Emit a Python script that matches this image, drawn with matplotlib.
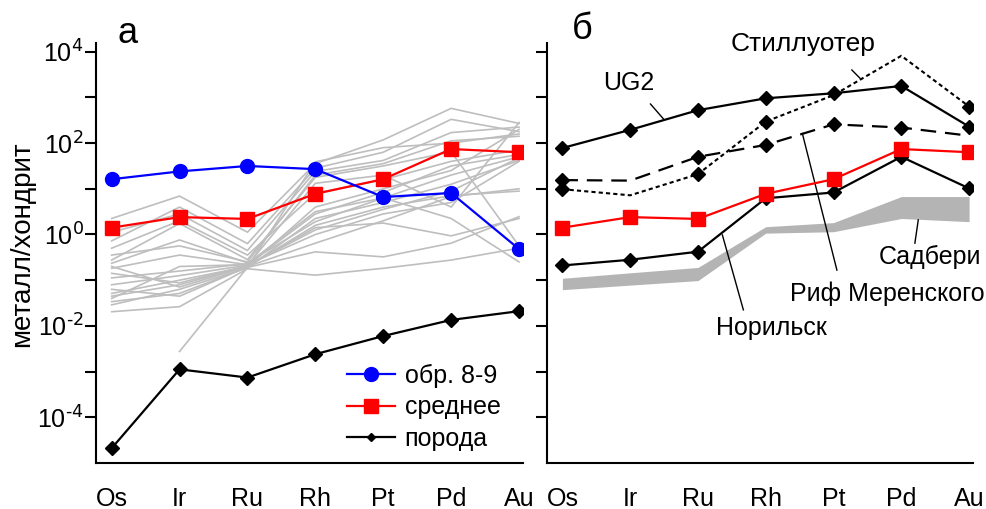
import numpy as np
import matplotlib
matplotlib.use("Agg")
import matplotlib.pyplot as plt
from matplotlib.lines import Line2D

plt.rcParams['font.family'] = ['Liberation Sans', 'DejaVu Sans']

elements = ["Os", "Ir", "Ru", "Rh", "Pt", "Pd", "Au"]

# values normalised to chondrite
sample_8_9 = [16.2, 24.0, 31.6, 26.9, 6.6, 8.1, 0.48]
mean_val = [1.41, 2.40, 2.19, 7.76, 16.2, 74.1, 63.1]
rock = [2.1e-5, 1.12e-3, 7.4e-4, 2.4e-3, 6.0e-3, 1.35e-2, 2.1e-2]

# individual samples (log10 of metal/chondrite), grey lines
grey_log = [
    [0.35, 0.84, 0.05, 1.55, 2.07, 2.76, 2.43],
    [-0.14, 0.60, -0.20, 1.45, 1.80, 2.52, 2.25],
    [0.05, 0.45, -0.35, 1.38, 1.62, 2.23, 2.35],
    [-0.56, 0.24, -0.55, 1.25, 1.50, 1.81, -0.25],
    [-0.63, -0.12, -0.62, 0.28, 0.80, 1.30, 1.70],
    [-0.74, -0.45, -0.66, 0.45, 0.92, 1.50, 1.75],
    [-0.85, -1.06, -0.68, 0.10, 0.55, 0.95, 1.68],
    [-0.70, -1.15, -0.70, -0.19, 0.30, 0.83, 1.00],
    [-1.29, -1.00, -0.70, 0.20, 0.60, 0.85, 0.95],
    [-1.40, -0.70, -0.66, 0.00, 0.45, 0.70, 1.60],
    [-1.47, -1.29, -0.72, -0.38, -0.49, -0.19, 0.39],
    [-1.54, -1.20, -0.73, 0.35, 0.70, 1.10, 1.62],
    [-1.69, -1.58, -0.75, -0.89, -0.74, -0.56, -0.30],
    [-1.35, -1.10, -0.69, 0.15, 0.25, -0.03, 0.35],
    [np.nan, -2.56, -0.72, 1.59, 1.90, 2.00, 2.20],
    [-0.95, -0.80, -0.64, 0.50, 0.80, 0.35, -0.60],
    [-1.10, -0.90, -0.67, 1.12, 1.30, 0.60, 2.45],
    [-0.30, 0.30, -0.45, 0.90, 1.20, 1.60, 1.85],
    [-1.20, -1.35, -0.71, 0.60, 1.00, 1.40, 2.30],
    [-0.45, -0.25, -0.60, 1.30, 1.55, 2.05, 2.15],
]

# panel b: deposits
ug2 = [78, 195, 525, 955, 1230, 1780, 229]
stillwater = [9.8, 7.2, 20.9, 295, 1120, 8130, 631]
merensky = [15.5, 15.1, 50.1, 91.2, 257, 219, 145]
norilsk = [0.21, 0.28, 0.42, 6.2, 8.3, 50.1, 10.2]
sudbury_hi = [0.11, 0.145, 0.19, 1.48, 1.82, 6.76, 6.76]
sudbury_lo = [0.062, 0.078, 0.098, 1.07, 1.15, 2.24, 1.91]

x = np.arange(len(elements))

fig = plt.figure(figsize=(9.87, 5.09), dpi=100)
ax1 = fig.add_axes([0.0973, 0.0904, 0.4327, 0.8251])
ax2 = fig.add_axes([0.554, 0.0904, 0.432, 0.8251])

for ax in (ax1, ax2):
    ax.set_yscale('log')
    ax.set_xlim(-0.23, 6.06)
    ax.set_ylim(1e-5, 10 ** 4.19)
    ax.spines['top'].set_visible(False)
    ax.spines['right'].set_visible(False)
    ax.spines['left'].set_linewidth(1.5)
    ax.spines['bottom'].set_linewidth(1.5)
    ax.set_xticks(x)
    ax.set_xticklabels(elements, fontsize=18)
    ax.tick_params(axis='x', length=0, pad=17)
    ax.set_yticks([10.0 ** k for k in range(-4, 5)])
    ax.yaxis.set_minor_locator(matplotlib.ticker.NullLocator())
    ax.tick_params(axis='y', length=8, width=1.5, direction='out', labelsize=18, pad=1)

ax1.set_yticklabels([r'$\mathregular{10^{\text{%d}}}$' % k if k % 2 == 0 else '' for k in range(-4, 5)])
ax2.set_yticklabels([])

# panel a
for row in grey_log:
    ax1.plot(x, 10 ** np.array(row), color='#bebebe', lw=1.2, zorder=1)
ax1.plot(x, rock, color='black', lw=1.6, marker='D', ms=7, zorder=3)
ax1.plot(x, mean_val, color='#ff0000', lw=1.6, marker='s', ms=10, zorder=4)
ax1.plot(x, sample_8_9, color='#0000ff', lw=1.6, marker='o', ms=10, zorder=5)
ax1.set_ylabel('металл/хондрит', fontsize=20, va='center')
ax1.yaxis.set_label_coords(-0.173, 0.52)
fig.text(0.129, 0.935, 'а', fontsize=26, ha='center', va='center')

handles = [
    Line2D([], [], color='#0000ff', lw=1.6, marker='o', ms=10),
    Line2D([], [], color='#ff0000', lw=1.6, marker='s', ms=10),
    Line2D([], [], color='black', lw=1.6, marker='D', ms=4),
]
ax1.legend(handles, ['обр. 8-9', 'среднее', 'порода'], loc='lower right',
           bbox_to_anchor=(1.0, -0.025), frameon=False, fontsize=18,
           handlelength=1.9, labelspacing=0.3, handletextpad=0.4)

# panel b
ax2.fill_between(x, sudbury_lo, sudbury_hi, color='#b4b4b4', lw=0, zorder=1)
ax2.plot(x, norilsk, color='black', lw=1.6, marker='D', ms=7.5, zorder=3)
ax2.plot(x, mean_val, color='#ff0000', lw=1.6, marker='s', ms=10, zorder=4)
ax2.plot(x, merensky, color='black', lw=1.6, ls=(0, (7, 4)), marker='D', ms=7.5,
         markevery=[0, 2, 3, 4, 5], zorder=3)
ax2.plot(x, stillwater, color='black', lw=1.5, ls=(0, (2, 1.5)), marker='D', ms=7.5,
         markevery=[0, 2, 3, 6], zorder=3)
ax2.plot(x, ug2, color='black', lw=1.6, marker='D', ms=7.5, zorder=3)
fig.text(0.590, 0.943, 'б', fontsize=26, ha='center', va='center')

# labels with leader lines
ax2.text(0.98, 10 ** 3.31, 'UG2', fontsize=18, ha='center', va='center')
ax2.plot([1.30, 1.49], [10 ** 2.855, 10 ** 2.53], color='black', lw=1)
ax2.text(3.55, 10 ** 4.17, 'Стиллуотер', fontsize=19, ha='center', va='center')
ax2.plot([4.27, 4.39], [10 ** 3.60, 10 ** 3.42], color='black', lw=1)
ax2.text(4.79, 10 ** -1.30, 'Риф Меренского', fontsize=18, ha='center', va='center')
ax2.plot([4.05, 3.54], [10 ** -0.78, 10 ** 2.21], color='black', lw=1)
ax2.text(5.42, 10 ** -0.49, 'Садбери', fontsize=18, ha='center', va='center')
ax2.plot([5.20, 5.25], [10 ** -0.19, 10 ** 0.32], color='black', lw=1)
ax2.text(3.09, 10 ** -2.05, 'Норильск', fontsize=18, ha='center', va='center')
ax2.plot([2.67, 2.36], [10 ** -1.65, 10 ** -0.01], color='black', lw=1)

fig.savefig('out.png', dpi=100)
